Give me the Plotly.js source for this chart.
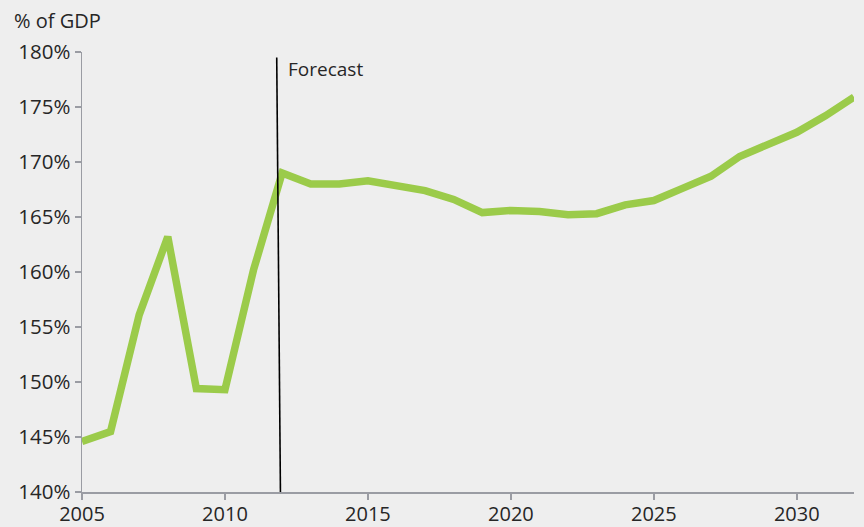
<!DOCTYPE html>
<html>
<head>
<meta charset="utf-8">
<script src="https://cdn.plot.ly/plotly-3.0.1.min.js"></script>
<style>html,body{margin:0;padding:0;background:#eeeeee;}#chart{width:864px;height:527px;}</style>
</head>
<body>
<div id="chart"></div>
<script>
const years = [2005,2006,2007,2008,2009,2010,2011,2012,2013,2014,2015,2016,2017,2018,2019,2020,2021,2022,2023,2024,2025,2026,2027,2028,2029,2030,2031,2032];
const debtPct = [144.6,145.5,156.1,163.2,149.4,149.3,160.2,169.0,168.0,168.0,168.3,167.9,167.4,166.6,165.4,165.6,165.5,165.2,165.3,166.1,166.5,167.6,168.7,170.5,171.6,172.7,174.2,175.9];
const yTicks = [140,145,150,155,160,165,170,175,180];
const xTicks = [2005,2010,2015,2020,2025,2030];
const forecastYear = 2012;

const fontFam = '"Open Sans", "Noto Sans", sans-serif';
const txtColor = '#262626';
const trace = {
  x: years, y: debtPct, type: 'scatter', mode: 'lines',
  line: {color: '#9bcb4a', width: 7.5},
  cliponaxis: false, hoverinfo: 'skip'
};
const layout = {
  width: 864, height: 527,
  paper_bgcolor: '#eeeeee', plot_bgcolor: '#eeeeee',
  margin: {l: 82, r: 10, t: 52, b: 35},
  showlegend: false,
  font: {family: fontFam, size: 20, color: txtColor},
  xaxis: {
    range: [2005, 2032], tickvals: xTicks, ticktext: xTicks.map(String),
    showgrid: false, zeroline: false, showline: true, linecolor: '#9a9ca3', linewidth: 1.5,
    ticks: 'outside', ticklen: 6, tickcolor: '#9a9ca3', tickwidth: 1.5,
    ticklabelstandoff: -3,
    tickfont: {family: fontFam, size: 20, color: txtColor}
  },
  yaxis: {
    range: [140, 180], tickvals: yTicks, ticktext: yTicks.map(v => v + '%'),
    showgrid: false, zeroline: false, showline: true, linecolor: '#9a9ca3', linewidth: 1.5,
    ticks: 'outside', ticklen: 6, tickcolor: '#9a9ca3', tickwidth: 1.5,
    tickfont: {family: fontFam, size: 20.5, color: txtColor}
  },
  shapes: [{
    type: 'line', xref: 'x', yref: 'y',
    x0: forecastYear - 0.19, y0: 179.5, x1: forecastYear - 0.06, y1: 140,
    line: {color: '#000000', width: 1.6}
  }],
  annotations: [
    {text: '% of GDP', xref: 'paper', yref: 'paper', x: -0.0907, y: 1.0727,
     xanchor: 'left', yanchor: 'middle', showarrow: false,
     font: {family: fontFam, size: 20, color: txtColor}},
    {text: 'Forecast', xref: 'x', yref: 'y', x: forecastYear + 0.14, y: 178.5,
     xanchor: 'left', yanchor: 'middle', showarrow: false,
     font: {family: fontFam, size: 19, color: txtColor}}
  ]
};
Plotly.newPlot('chart', [trace], layout, {displayModeBar: false, staticPlot: true});
</script>
</body>
</html>
